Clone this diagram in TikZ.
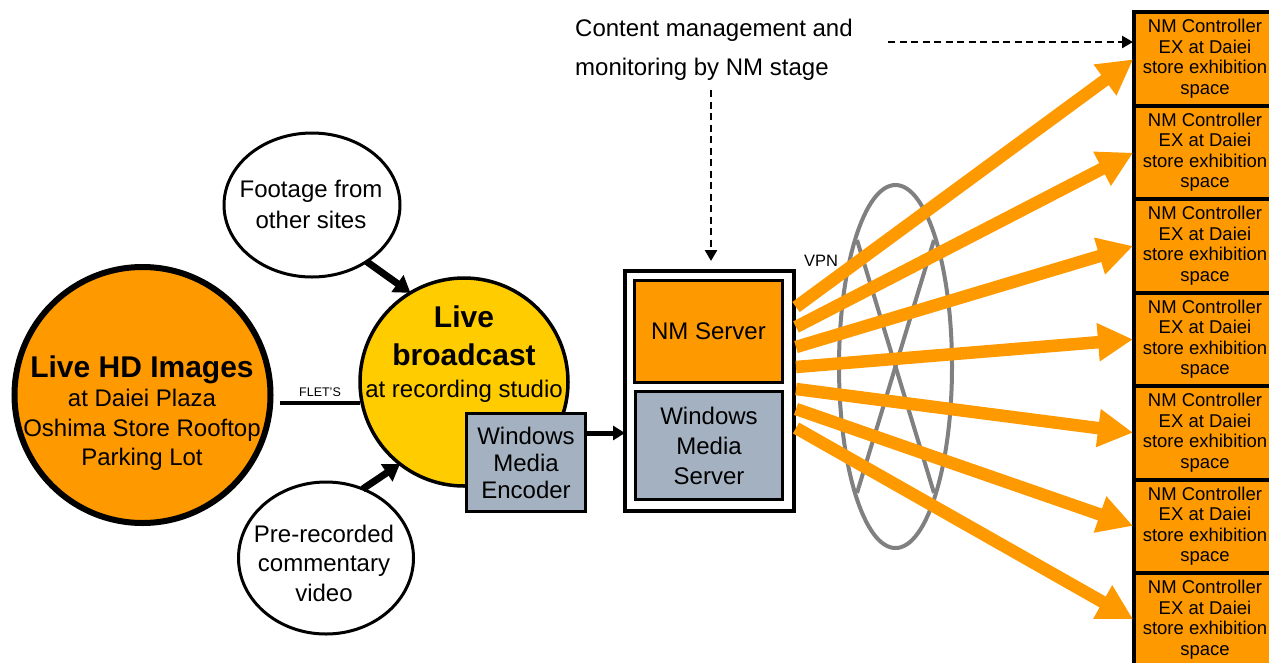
\documentclass[tikz,border=0pt]{standalone}
\usepackage{fontspec}
\setmainfont{Liberation Sans}
\usetikzlibrary{arrows.meta,shapes.geometric}
\definecolor{orng}{RGB}{255,153,0}
\definecolor{yel}{RGB}{255,204,0}
\definecolor{gbox}{RGB}{163,177,192}
\definecolor{ringgray}{RGB}{128,128,128}
\newcommand\fsz[2]{\fontsize{#1}{#2}\selectfont}
\begin{document}
\begin{tikzpicture}[x=1pt,y=-1pt,
  shapeframe/.style={draw=black, inner sep=0pt, outer sep=0pt},
  txt/.style={inner sep=0pt, align=center},
  ctrlbox/.style={shapeframe, line width=4pt, fill=orng, minimum width=142pt, minimum height=93.5pt, align=center, font=\fsz{18.5}{20.5}},
  oarrow/.style={draw=orng, line width=12.5pt, -{Triangle[length=35pt,width=36pt]}},
  barrow/.style={draw=black, line width=7pt, -{Triangle[length=16pt,width=20pt]}},
  earrow/.style={draw=black, line width=5pt, -{Triangle[length=12pt,width=14pt]}},
  dasharrow/.style={draw=black, line width=2.5pt, dash pattern=on 7pt off 4.5pt, -{Triangle[length=11pt,width=12pt]}},
  ringline/.style={draw=ringgray, line width=4pt}
]
\useasboundingbox (0,0) rectangle (1269,662);
\fill[white] (0,0) rectangle (1269,662);

% connection FLET'S
\coordinate (fl) at (300,403);

% left big circle
\node[shapeframe, circle, line width=6pt, fill=orng, minimum size=256pt] (hd) at (142.5,395) {};
\node[txt, font=\fsz{24}{29.5}] (hdt) at (142,413) {{\bfseries\fontsize{30}{29.5}\selectfont Live HD Images}\\at Daiei Plaza\\Oshima Store Rooftop\\Parking Lot};

% footage / prerecorded ellipses
\node[shapeframe, ellipse, line width=3pt, fill=white, minimum width=176pt, minimum height=144pt] (ft) at (312,205) {};
\node[txt, font=\fsz{24}{31}] (ftt) at (311,204) {Footage from\\other sites};
\node[shapeframe, ellipse, line width=3pt, fill=white, minimum width=175pt, minimum height=152pt] (pr) at (326,558) {};
\node[txt, font=\fsz{24}{29.5}] (prt) at (324,563) {Pre-recorded\\commentary\\video};

% broadcast circle
\node[shapeframe, circle, line width=3.5pt, fill=yel, minimum size=208pt] (bc) at (464,382) {};
\draw[line width=4pt, shorten <=9pt] (hd.east |- fl) -- (bc.west |- fl);
\node[anchor=base, inner sep=0pt, font=\fsz{12.5}{12.5}] (flt) at (320,396) {FLET'S};
\node[txt, font=\fsz{24}{32}] (bct) at (464,354) {{\bfseries\fontsize{30}{32}\selectfont Live}\\[6pt]{\bfseries\fontsize{30}{32}\selectfont broadcast}\\at recording studio};

\draw[barrow] (ft.-46) -- (bc.121);
\draw[barrow] (pr.62) -- (bc.232);

% encoder
\node[shapeframe, line width=3pt, fill=gbox, minimum width=119pt, minimum height=98pt, align=center, font=\fsz{24}{27}] (enc) at (526,462.5) {Windows\\Media\\Encoder};

% server
\node[shapeframe, line width=4pt, fill=white, minimum width=169pt, minimum height=240pt] (srv) at (709.5,391) {};
\node[shapeframe, line width=3pt, fill=orng, minimum width=148pt, minimum height=102pt, font=\fsz{24}{30}] (nms) at (708.5,331.5) {NM Server};
\node[shapeframe, line width=3pt, fill=gbox, minimum width=147pt, minimum height=108pt, align=center, font=\fsz{24}{30}] (wms) at (709,445.5) {Windows\\Media\\Server};

\coordinate (eo) at (586,433);
\draw[earrow] (eo) -- (eo -| srv.west);

% content management
\node[anchor=west, inner sep=0pt, align=left, font=\fsz{24}{39}] (cm) at (575,50) {Content management and\\monitoring by NM stage};
\coordinate (dv) at (711,90);
\draw[dasharrow, shorten >=10pt] (dv) -- (dv |- srv.north);

% VPN ring
\draw[ringline] (895.5,366.5) ellipse [x radius=56.5pt, y radius=181.5pt];
\draw[ringline] (857,240) -- (934,493);
\draw[ringline] (934,240) -- (857,493);
\node[anchor=base, inner sep=0pt, font=\fsz{16.5}{16.5}] (vpn) at (821,266.7) {VPN};

% controllers
\foreach \i in {0,...,6}{
  \node[ctrlbox] (c\i) at (1205,{58.75+93.5*\i}) {NM Controller\\EX at Daiei\\store exhibition\\space};
}

\coordinate (dh) at (888,42);
\draw[dasharrow, shorten >=1pt] (dh) -- (dh -| c0.west);

% orange links
\foreach \i/\y in {0/307,1/327,2/347,3/367,4/389,5/409,6/428}{
  \coordinate (s\i) at (796,\y);
  \draw[oarrow, shorten >=1pt] (s\i) -- (c\i.west);
}
\end{tikzpicture}
\end{document}
